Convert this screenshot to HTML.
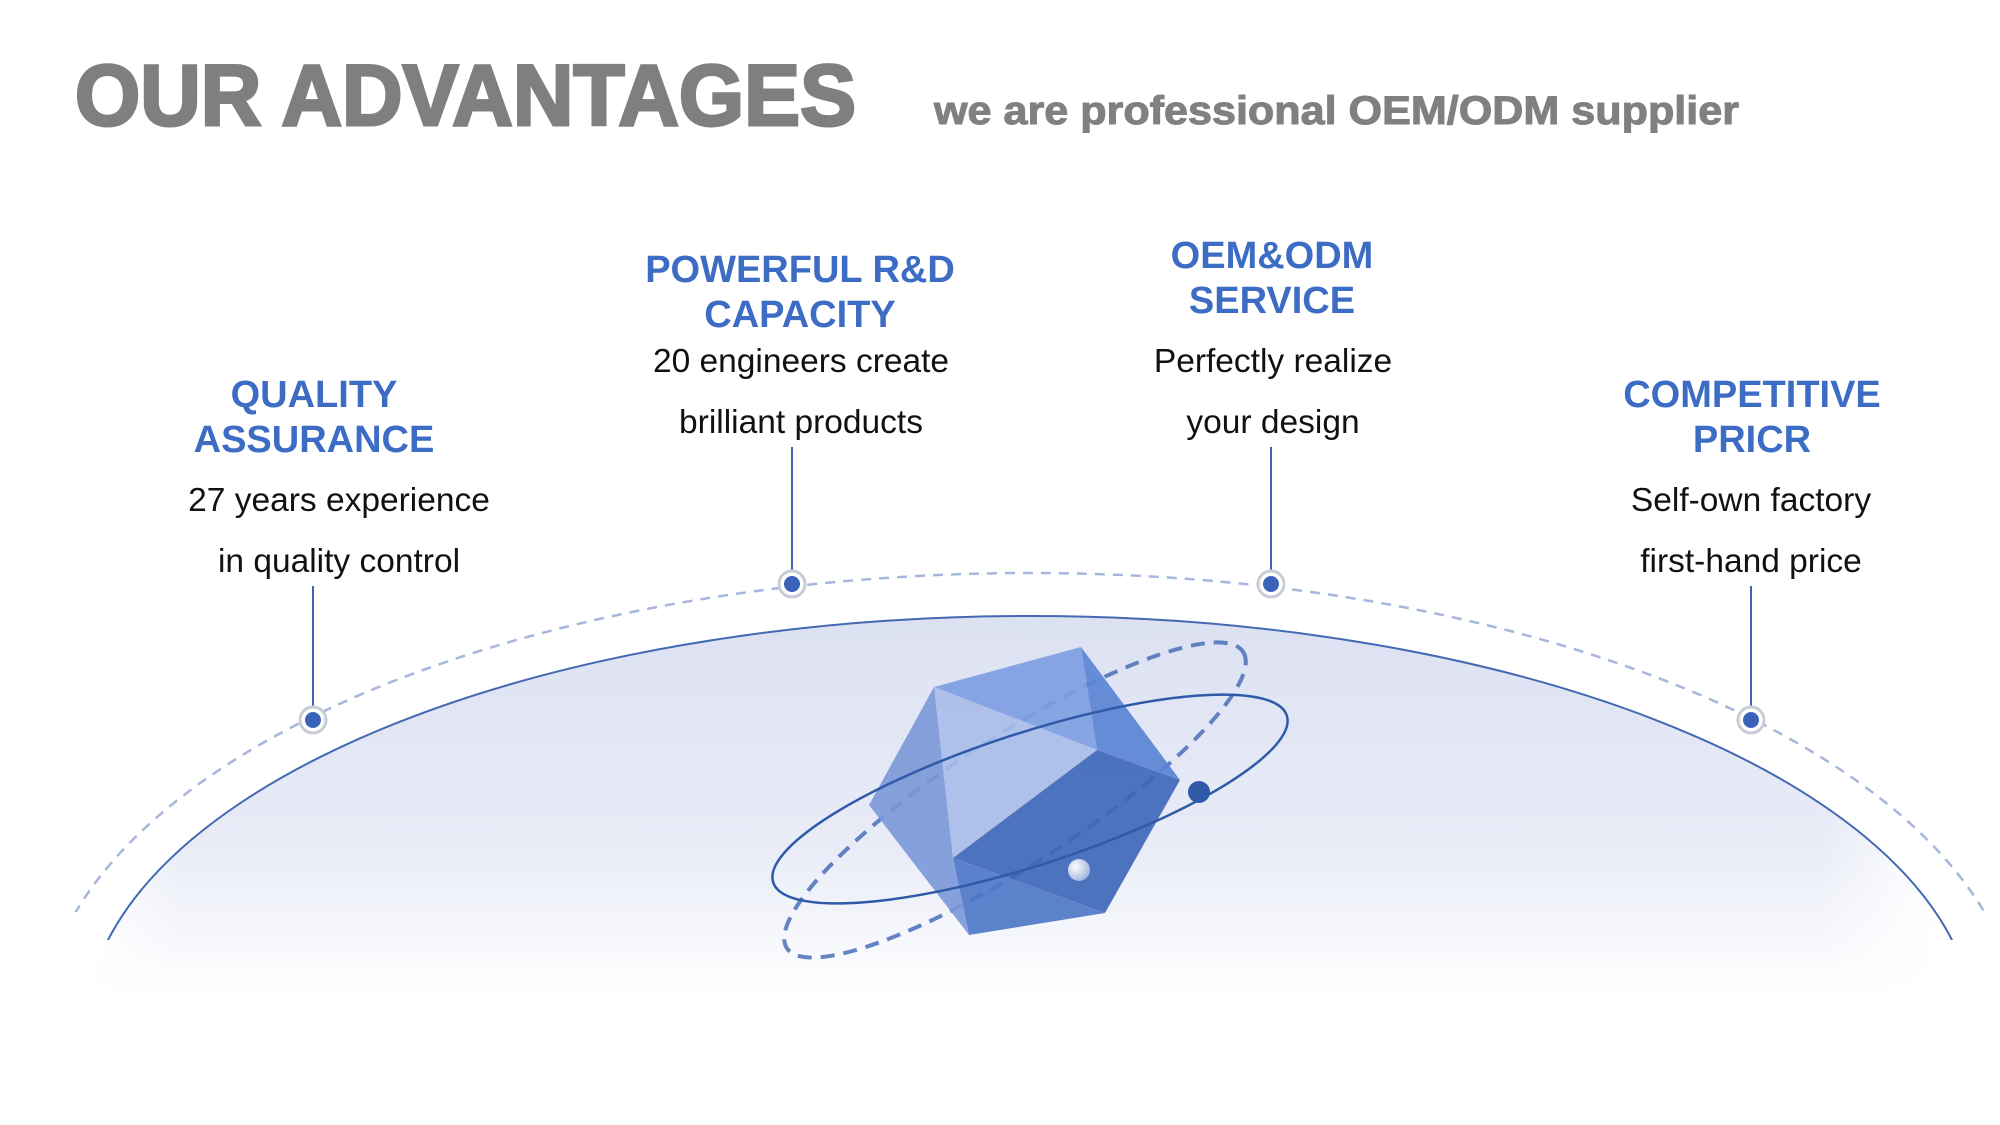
<!DOCTYPE html>
<html><head><meta charset="utf-8"><style>
html,body{margin:0;padding:0;background:#fff;}
body{width:2000px;height:1125px;overflow:hidden;position:relative;font-family:"Liberation Sans",Arial,sans-serif;}
svg{position:absolute;left:0;top:0;}
</style></head><body>
<svg width="2000" height="1125" viewBox="0 0 2000 1125" xmlns="http://www.w3.org/2000/svg">
<defs>
<linearGradient id="dome" x1="0" y1="616" x2="0" y2="1000" gradientUnits="userSpaceOnUse">
<stop offset="0" stop-color="#dce1f2"/><stop offset="0.6" stop-color="#e9ecf7"/><stop offset="1" stop-color="#ffffff"/>
</linearGradient>
<linearGradient id="sideFade" x1="0" y1="0" x2="2000" y2="0" gradientUnits="userSpaceOnUse">
<stop offset="0.03" stop-color="#fff" stop-opacity="1"/><stop offset="0.09" stop-color="#fff" stop-opacity="0"/><stop offset="0.91" stop-color="#fff" stop-opacity="0"/><stop offset="0.97" stop-color="#fff" stop-opacity="1"/>
</linearGradient>
<radialGradient id="ball" cx="0.35" cy="0.35" r="0.7"><stop offset="0" stop-color="#fff"/><stop offset="1" stop-color="#9fb3dc"/></radialGradient>
<clipPath id="fillclip"><rect x="0" y="0" width="2000" height="998"/></clipPath>
<clipPath id="strokeclip"><rect x="0" y="0" width="2000" height="940"/></clipPath>
<clipPath id="dashclip"><rect x="0" y="0" width="2000" height="912"/></clipPath>
</defs>
<g clip-path="url(#fillclip)">
<ellipse cx="1030" cy="1031" rx="945" ry="415" fill="url(#dome)"/>
</g>
<rect x="0" y="800" width="2000" height="200" fill="url(#sideFade)"/>
<g clip-path="url(#strokeclip)">
<ellipse cx="1030" cy="1031" rx="945" ry="415" fill="none" stroke="#4469b3" stroke-width="2"/>
</g>
<g clip-path="url(#dashclip)">
<ellipse cx="1030" cy="1035" rx="990" ry="462" fill="none" stroke="#a6b6dc" stroke-width="2.5" stroke-dasharray="10 8"/>
</g>
<g stroke="#3b64b8" stroke-width="2">
<line x1="313" y1="586" x2="313" y2="715"/>
<line x1="792" y1="447" x2="792" y2="582"/>
<line x1="1271" y1="447" x2="1271" y2="582"/>
<line x1="1751" y1="586" x2="1751" y2="715"/>
</g>
<g fill="#fff" stroke="#c8ccd6" stroke-width="3">
<circle cx="313" cy="720" r="13"/><circle cx="792" cy="584" r="13"/><circle cx="1271" cy="584" r="13"/><circle cx="1751" cy="720" r="13"/>
</g>
<g fill="#3a63b7">
<circle cx="313" cy="720" r="8"/><circle cx="792" cy="584" r="8"/><circle cx="1271" cy="584" r="8"/><circle cx="1751" cy="720" r="8"/>
</g>
<ellipse cx="1015" cy="800" rx="272" ry="64" transform="rotate(-33 1015 800)" fill="none" stroke="#4a6fb8" stroke-width="4" stroke-dasharray="14 9" opacity="0.85"/>
<g opacity="0.9">
<polygon points="934,687 1081,647 1097,750" fill="#7d9ee2"/>
<polygon points="1081,647 1180,780 1097,750" fill="#5a83d4"/>
<polygon points="934,687 1097,750 953,858" fill="#a9bdea"/>
<polygon points="1097,750 1180,780 1105,913 953,858" fill="#3d66b8"/>
<polygon points="953,858 1105,913 969,935" fill="#4d76c8"/>
<polygon points="934,687 953,858 969,935 869,805" fill="#7a98d8"/>
</g>
<ellipse cx="1030" cy="799" rx="270" ry="66" transform="rotate(-18 1030 799)" fill="none" stroke="#2f5aa8" stroke-width="2.5"/>
<circle cx="1199" cy="792" r="11" fill="#2f5aa8"/>
<circle cx="1079" cy="870" r="11" fill="url(#ball)"/>
<text x="75" y="125" font-family="Liberation Sans, Arial, sans-serif" font-weight="900" font-size="86" fill="#7f7f7f" stroke="#7f7f7f" stroke-width="3" textLength="781" lengthAdjust="spacingAndGlyphs">OUR ADVANTAGES</text>
<text x="934" y="124" font-family="Liberation Sans, Arial, sans-serif" font-weight="bold" font-size="40" fill="#808080" stroke="#808080" stroke-width="1" textLength="805" lengthAdjust="spacingAndGlyphs">we are professional OEM/ODM supplier</text>
<g font-family="Liberation Sans, Arial, sans-serif" font-weight="bold" font-size="38" fill="#3d6cc4" text-anchor="middle">
<text x="800" y="282">POWERFUL R&amp;D</text><text x="800" y="327">CAPACITY</text>
<text x="1272" y="268">OEM&amp;ODM</text><text x="1272" y="313">SERVICE</text>
<text x="314" y="407">QUALITY</text><text x="314" y="452">ASSURANCE</text>
<text x="1752" y="407">COMPETITIVE</text><text x="1752" y="452">PRICR</text>
</g>
<g font-family="Liberation Sans, Arial, sans-serif" font-size="33.5" fill="#111" text-anchor="middle">
<text x="801" y="372">20 engineers create</text><text x="801" y="433">brilliant products</text>
<text x="1273" y="372">Perfectly realize</text><text x="1273" y="433">your design</text>
<text x="339" y="511">27 years experience</text><text x="339" y="572">in quality control</text>
<text x="1751" y="511">Self-own factory</text><text x="1751" y="572">first-hand price</text>
</g>
</svg>
</body></html>
